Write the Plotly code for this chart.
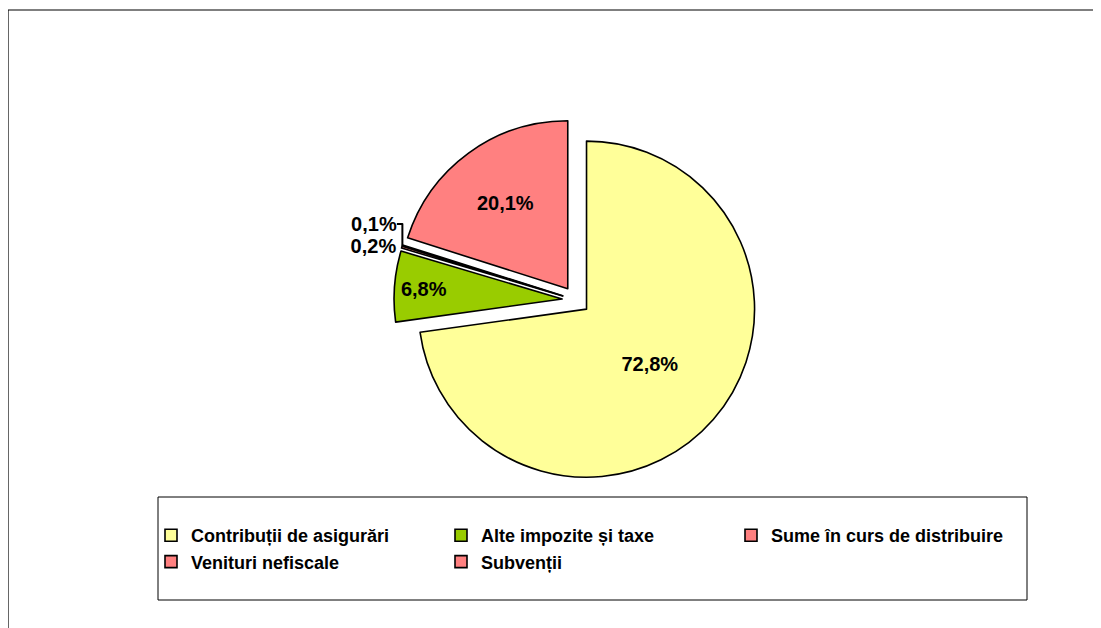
import plotly.graph_objects as go

categories = ["Contribuții de asigurări", "Alte impozite și taxe", "Sume în curs de distribuire",
              "Venituri nefiscale", "Subvenții"]
values = [72.8, 6.8, 0.2, 0.1, 20.1]
colors = ["#FFFF99", "#99CC00", "#FF8080", "#FF8080", "#FF8080"]
text_pos = ["inside", "inside", "outside", "outside", "inside"]

labels_txt = [f"{v:.1f}".replace(".", ",") + "%" for v in values]

W, H = 1101, 628
OFF = 8  # page body margin offset
cx, cy, half = 587 - OFF - 11, 310 - OFF - 10, 182

FONT = "Liberation Sans, Arial, Helvetica, sans-serif"

fig = go.Figure(go.Pie(
    labels=categories,
    values=values,
    text=labels_txt,
    textinfo="text",
    sort=False,
    direction="clockwise",
    rotation=0,
    pull=0.083,
    marker=dict(colors=colors, line=dict(color="black", width=1.6)),
    textposition=text_pos,
    insidetextorientation="horizontal",
    textfont=dict(family=FONT, size=20, color="black", weight="bold"),
    domain=dict(x=[(cx - half) / W, (cx + half) / W],
                y=[(H - cy - half) / H, (H - cy + half) / H]),
    hoverinfo="skip",
))

box_l, box_r, box_t, box_b = 158 - OFF, 1027 - OFF, 497 - OFF, 600 - OFF

fig.update_layout(
    width=W, height=H,
    margin=dict(l=0, r=0, t=0, b=0),
    paper_bgcolor="white",
    plot_bgcolor="white",
    showlegend=True,
    legend=dict(
        orientation="h",
        x=(box_l - 7) / W, xanchor="left",
        y=1 - ((box_t + box_b) / 2) / H, yanchor="middle",
        borderwidth=0, bgcolor="rgba(0,0,0,0)",
        entrywidth=245, entrywidthmode="pixels",
        font=dict(family=FONT, size=18, color="black", weight="bold"),
        traceorder="normal",
    ),
    shapes=[
        dict(type="rect", xref="paper", yref="paper",
             x0=0, x1=1.05, y0=-0.05, y1=1 - 2 / H,
             line=dict(color="black", width=1.2), fillcolor="rgba(0,0,0,0)", layer="below"),
        dict(type="rect", xref="paper", yref="paper",
             x0=box_l / W, x1=box_r / W, y0=1 - box_b / H, y1=1 - box_t / H,
             line=dict(color="black", width=1), fillcolor="white", layer="below"),
    ],
)

fig.write_html("out.html")
